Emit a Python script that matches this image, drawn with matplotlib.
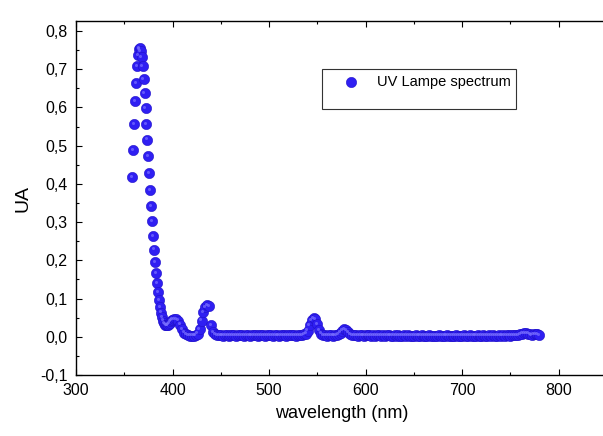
import numpy as np
import matplotlib
matplotlib.use("Agg")
import matplotlib.pyplot as plt
from matplotlib.ticker import MultipleLocator, FuncFormatter
from matplotlib.patches import Rectangle
from matplotlib.lines import Line2D
from matplotlib.transforms import offset_copy

plt.rcParams['font.family'] = ['Liberation Sans', 'DejaVu Sans']
plt.rcParams['axes.unicode_minus'] = False

# wavelength grid: 1 nm over the UV peak, 2 nm after
wl_fine = list(range(358, 401))
wl_coarse = list(range(402, 781, 2))

# UV peak, 358..400 nm
uv_peak = [0.418, 0.488, 0.556, 0.616, 0.664, 0.708, 0.736, 0.752, 0.755, 0.748,
           0.732, 0.708, 0.674, 0.638, 0.598, 0.556, 0.516, 0.472, 0.428, 0.384,
           0.342, 0.302, 0.264, 0.228, 0.196, 0.166, 0.140, 0.116, 0.096, 0.078,
           0.063, 0.051, 0.042, 0.036, 0.032, 0.030, 0.030, 0.031, 0.033, 0.036,
           0.040, 0.043, 0.045]
# 402..444 nm
blue_bump = [0.047, 0.047, 0.042, 0.032, 0.020, 0.011, 0.006, 0.004, 0.003, 0.003,
             0.003, 0.004, 0.008, 0.020, 0.042, 0.064, 0.078, 0.082, 0.081, 0.030,
             0.012, 0.006]
# 446..536 nm
flat1 = [0.004, 0.004, 0.004, 0.003, 0.004, 0.004, 0.003, 0.004, 0.004, 0.004,
         0.003, 0.004, 0.004, 0.004, 0.003, 0.004, 0.004, 0.003, 0.004, 0.004,
         0.004, 0.003, 0.004, 0.004, 0.004, 0.003, 0.004, 0.004, 0.004, 0.003,
         0.004, 0.004, 0.003, 0.004, 0.004, 0.004, 0.003, 0.004, 0.004, 0.004,
         0.004, 0.003, 0.004, 0.004, 0.005, 0.006]
# 538..556 nm
green = [0.008, 0.016, 0.030, 0.043, 0.049, 0.046, 0.034, 0.018, 0.008, 0.004]
# 558..570 nm
flat2 = [0.004, 0.003, 0.004, 0.004, 0.003, 0.004, 0.005]
# 572..586 nm
yellow = [0.007, 0.011, 0.016, 0.020, 0.018, 0.012, 0.007, 0.005]
# 588..758 nm
flat3 = [0.004, 0.004, 0.003, 0.004, 0.004, 0.003, 0.004, 0.004, 0.004, 0.003,
         0.004, 0.003, 0.004, 0.004, 0.003, 0.004, 0.003, 0.004, 0.004, 0.003,
         0.003, 0.004, 0.003, 0.004, 0.003, 0.003, 0.004, 0.003, 0.004, 0.003,
         0.003, 0.003, 0.004, 0.003, 0.003, 0.004, 0.003, 0.003, 0.003, 0.004,
         0.003, 0.003, 0.003, 0.003, 0.004, 0.003, 0.003, 0.003, 0.004, 0.003,
         0.003, 0.003, 0.003, 0.004, 0.003, 0.003, 0.003, 0.004, 0.003, 0.003,
         0.004, 0.003, 0.003, 0.003, 0.004, 0.003, 0.003, 0.004, 0.003, 0.003,
         0.004, 0.003, 0.004, 0.003, 0.003, 0.004, 0.003, 0.004, 0.003, 0.004,
         0.004, 0.003, 0.004, 0.004, 0.004, 0.005]
# 760..780 nm
red_tail = [0.006, 0.008, 0.009, 0.009, 0.008, 0.006, 0.005, 0.006, 0.007, 0.006,
            0.005]

wavelength = np.array(wl_fine + wl_coarse)
intensity = np.array(uv_peak + blue_bump + flat1 + green + flat2 + yellow + flat3 + red_tail)
assert len(wavelength) == len(intensity)

legend_label = "UV Lampe spectrum"
dot_color = '#2f1ff2'
dot_edge = '#2010c8'
shine = '#7a70ff'
ms = 7.4

W, H = 603, 436
fig = plt.figure(figsize=(W / 100, H / 100), dpi=100)
ax = fig.add_axes([76 / W, (H - 375) / H, (607 - 76) / W, (375 - 21) / H])

# spheres: body then a small highlight slightly up-left
ax.plot(wavelength, intensity, 'o', ms=ms, mfc=dot_color, mec=dot_edge, mew=0.4,
        clip_on=False)
hl = offset_copy(ax.transData, fig=fig, x=-0.9, y=0.9, units='points')
ax.plot(wavelength, intensity, 'o', ms=2.2, mfc=shine, mec='none', alpha=0.7,
        transform=hl, clip_on=False)

ax.set_xlim(300, 850)
ax.set_ylim(-0.1, 0.826)
ax.xaxis.set_major_locator(MultipleLocator(100))
ax.xaxis.set_minor_locator(MultipleLocator(50))
ax.yaxis.set_major_locator(MultipleLocator(0.1))
ax.yaxis.set_minor_locator(MultipleLocator(0.05))
ax.yaxis.set_major_formatter(FuncFormatter(lambda v, p: f"{v:.1f}".replace('.', ',').replace('-0,0', '0,0')))

ax.tick_params(which='both', direction='in', top=True, right=False, labelsize=11.5, pad=6)
ax.tick_params(which='major', length=4, width=0.8)
ax.tick_params(which='minor', length=2.2, width=0.8)
for s in ax.spines.values():
    s.set_linewidth(1.0)

ax.set_xlabel("wavelength (nm)", fontsize=13, labelpad=5)
ax.set_ylabel("UA", fontsize=14, labelpad=6)

# legend box drawn like the Origin one
fig.add_artist(Rectangle((322 / W, (H - 109) / H), (516 - 322) / W, 40 / H,
                         transform=fig.transFigure, fill=False, ec='#333333', lw=0.8))
fig.add_artist(Line2D([351 / W], [(H - 82) / H], transform=fig.transFigure, marker='o',
                      ms=ms, mfc=dot_color, mec=dot_edge, mew=0.4, ls='none'))
fig.text(377 / W, (H - 82) / H, legend_label, fontsize=10.5, va='center', ha='left')

fig.savefig("out.png", dpi=100)
